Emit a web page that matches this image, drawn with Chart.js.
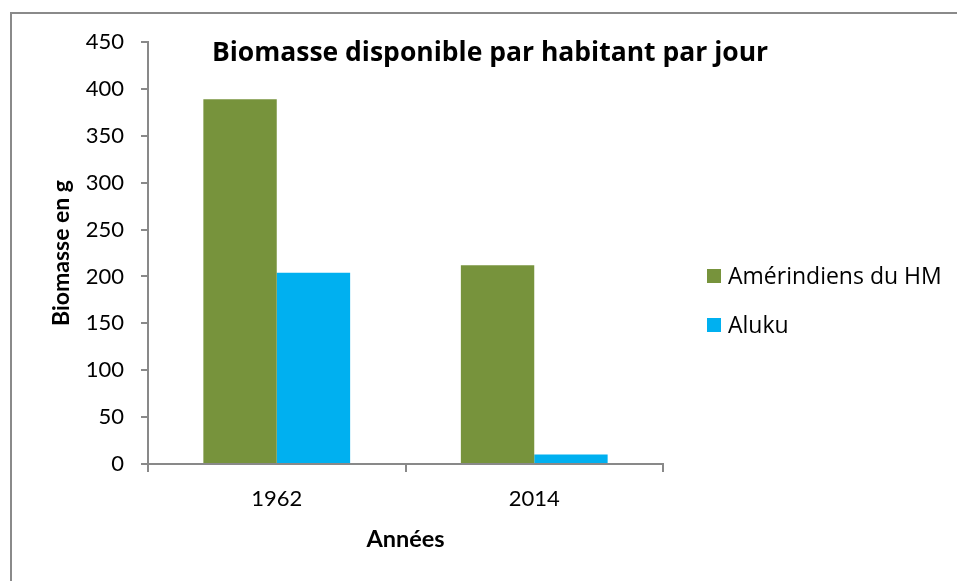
<!DOCTYPE html>
<html lang="fr">
<head>
<meta charset="utf-8">
<title>Biomasse disponible par habitant par jour</title>
<script src="https://cdn.jsdelivr.net/npm/chart.js@4/dist/chart.umd.min.js"></script>
<style>
    html, body { margin: 0; padding: 0; background: #fff; overflow: hidden; }
    #wrap { position: relative; width: 957px; height: 581px; }
    #frame {
        position: absolute; left: 10px; top: 12px; width: 980px; height: 600px;
        border: 2px solid #8a8a8a; box-sizing: border-box;
    }
    canvas { position: absolute; left: 0; top: 0; }
</style>
</head>
<body>
<div id="wrap">
    <div id="frame"></div>
    <canvas id="chart" width="957" height="581"></canvas>
</div>
<script>
const ANNEES = ['1962', '2014'];
const AMERINDIENS = [389, 212];
const ALUKU = [204, 10];
const SERIES_NOMS = ['Amérindiens du HM', 'Aluku'];
const TITRE = 'Biomasse disponible par habitant par jour';

const OLIVE = '#77933C';
const CYAN = '#00B0F0';
const AXE = '#898989';
const FONT = 'Lato, "Open Sans", sans-serif';
const FONT_LARGE = '"Open Sans", Lato, sans-serif';

// titre posé dans la zone du graphique, au-dessus des barres
const titrePlugin = {
    id: 'titreInterne',
    afterDraw(chart) {
        const { ctx, chartArea } = chart;
        ctx.save();
        ctx.font = `bold 26.5px ${FONT_LARGE}`;
        ctx.fillStyle = '#000';
        ctx.textAlign = 'center';
        ctx.textBaseline = 'middle';
        ctx.fillText(TITRE, chartArea.left + 342, chartArea.top + 11);
        ctx.restore();
    },
};

// légende verticale à droite, carrés + libellés
const legendePlugin = {
    id: 'legendeDroite',
    afterDraw(chart) {
        const { ctx, chartArea } = chart;
        const x = chartArea.right + 44;
        let y = chartArea.top + 234;
        ctx.save();
        ctx.font = `23px ${FONT_LARGE}`;
        ctx.textBaseline = 'middle';
        chart.data.datasets.forEach((ds) => {
            ctx.fillStyle = ds.backgroundColor;
            ctx.fillRect(x, y - 7, 14, 14);
            ctx.fillStyle = '#000';
            ctx.fillText(ds.label, x + 21, y + 1);
            y += 49;
        });
        ctx.restore();
    },
};

new Chart(document.getElementById('chart'), {
    type: 'bar',
    data: {
        labels: ANNEES,
        datasets: [
            { label: SERIES_NOMS[0], data: AMERINDIENS, backgroundColor: OLIVE },
            { label: SERIES_NOMS[1], data: ALUKU, backgroundColor: CYAN },
        ],
    },
    options: {
        responsive: false,
        animation: false,
        devicePixelRatio: 1,
        layout: { padding: { left: 10, top: 42, right: 294, bottom: 0 } },
        datasets: { bar: { categoryPercentage: 0.57, barPercentage: 1 } },
        plugins: {
            legend: { display: false },
            title: { display: false },
            tooltip: { enabled: false },
        },
        scales: {
            x: {
                afterFit(scale) { scale.height = 117; },
                grid: { display: true, drawOnChartArea: false, offset: true, tickLength: 8, color: AXE, lineWidth: 2 },
                border: { display: true, color: AXE, width: 2 },
                ticks: { color: '#000', font: { family: FONT, size: 22 }, padding: 14 },
                title: {
                    display: true,
                    text: 'Années',
                    color: '#000',
                    font: { family: FONT, size: 23.5, weight: 'bold' },
                    padding: { top: 0, bottom: 27 },
                },
            },
            y: {
                min: 0,
                max: 450,
                afterFit(scale) { scale.width = 138; },
                grid: { display: true, drawOnChartArea: false, tickLength: 7, color: AXE, lineWidth: 2 },
                border: { display: true, color: AXE, width: 2 },
                ticks: { stepSize: 50, color: '#000', font: { family: FONT, size: 22 }, padding: 17 },
                title: {
                    display: true,
                    text: 'Biomasse en g',
                    color: '#000',
                    font: { family: FONT, size: 23, weight: 'bold' },
                    padding: { top: 38, bottom: 0 },
                },
            },
        },
    },
    plugins: [titrePlugin, legendePlugin],
});
</script>
</body>
</html>
